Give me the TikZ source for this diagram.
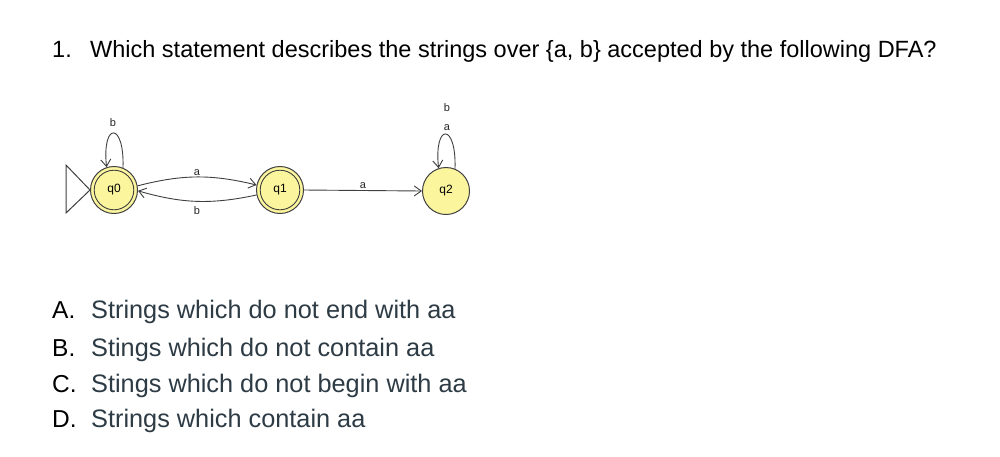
\documentclass[tikz,border=0pt]{standalone}
\usepackage{fontspec}
\setmainfont{Liberation Sans}
\usetikzlibrary{arrows.meta}
\definecolor{optcol}{HTML}{2D3B45}
\definecolor{statefill}{HTML}{FBF59E}
\definecolor{stateline}{HTML}{404040}
\tikzset{
  heading/.style={anchor=base west, inner sep=0pt, font=\fontsize{23.5}{28}\selectfont, text=black},
  opttext/.style={anchor=base west, inner sep=0pt, font=\fontsize{25.3}{30}\selectfont, text=optcol},
  optletter/.style={anchor=base west, inner sep=0pt, font=\fontsize{24.5}{30}\selectfont, text=black},
  state/.style={circle, draw=stateline, line width=1pt, fill=statefill, minimum size=47pt, inner sep=0pt, font=\fontsize{12}{14}\selectfont},
  trans/.style={draw=stateline, line width=0.9pt, -{Straight Barb[length=7pt,width=10pt]}},
  elabel/.style={font=\fontsize{11}{13}\selectfont, inner sep=1pt, text=black!85}
}
\begin{document}
\begin{tikzpicture}[x=1pt,y=1pt]
\useasboundingbox (0,0) rectangle (1000,-456);
\fill[white] (0,0) rectangle (1000,-456);
% heading
\node[heading] (num) at (52,-57) {1.};
\node[heading] (q) at (90,-57) {Which statement describes the strings over \{a, b\} accepted by the following DFA?};
% states
\node[state] (q0) at (114,-190) {q0};
\node[state] (q1) at (280,-190) {q1};
\node[state] (q2) at (446,-191) {q2};
\draw[stateline, line width=0.9pt] (q0) circle (19.8pt);
\draw[stateline, line width=0.9pt] (q1) circle (19.8pt);
% initial triangle
\coordinate (t1) at (66,-165);
\coordinate (t2) at (66,-213);
\draw[stateline, line width=1pt, fill=white] (t1) -- (q0.west) -- (t2) -- cycle;
% transitions
\draw[trans] (q0.10) to[bend left=14] node[elabel, above] (la1) {a} (q1.168);
\draw[trans] (q1.192) to[bend left=14] node[elabel, below, yshift=-4pt] (lb1) {b} (q0.358);
\draw[trans] (q1.east) -- node[elabel, above] (la2) {a} (q2.west);
% loops
\draw[trans] (q0.68) .. controls +(88:46) and +(96:46) .. (q0.108);
\node[elabel] (lb0) at (113,-123) {b};
\draw[trans] (q2.68) .. controls +(88:46) and +(96:46) .. (q2.108);
\node[elabel] (la3) at (447,-128) {a};
\node[elabel] (lb3) at (447,-108) {b};
% options
\node[optletter] (oA) at (52,-318) {A.};
\node[opttext] (tA) at (91,-318) {Strings which do not end with aa};
\node[optletter] (oB) at (52,-356) {B.};
\node[opttext] (tB) at (91,-356) {Stings which do not contain aa};
\node[optletter] (oC) at (52,-392) {C.};
\node[opttext] (tC) at (91,-392) {Stings which do not begin with aa};
\node[optletter] (oD) at (52,-427) {D.};
\node[opttext] (tD) at (91,-427) {Strings which contain aa};
\end{tikzpicture}
\end{document}
